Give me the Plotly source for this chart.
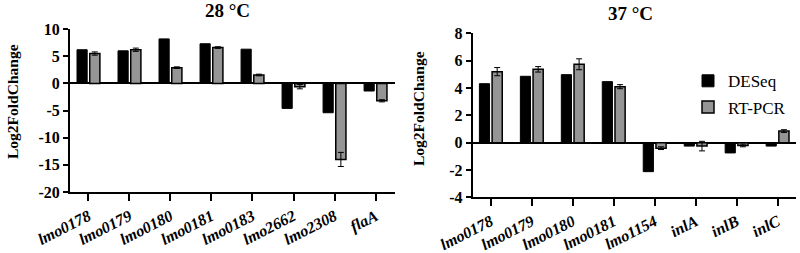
import plotly.graph_objects as go

genes_28 = ["lmo0178", "lmo0179", "lmo0180", "lmo0181", "lmo0183", "lmo2662", "lmo2308", "flaA"]
deseq_28 = [6.2, 6.0, 8.2, 7.3, 6.3, -4.6, -5.4, -1.4]
rtpcr_28 = [5.5, 6.2, 2.9, 6.6, 1.55, -0.6, -14.0, -3.2]
rtpcr_28_err = [0.3, 0.3, 0.15, 0.15, 0.15, 0.4, 1.3, 0.2]

genes_37 = ["lmo0178", "lmo0179", "lmo0180", "lmo0181", "lmo1154", "inlA", "inlB", "inlC"]
deseq_37 = [4.32, 4.86, 4.98, 4.47, -2.12, -0.25, -0.75, -0.25]
rtpcr_37 = [5.2, 5.37, 5.74, 4.1, -0.4, -0.25, -0.2, 0.85]
rtpcr_37_err = [0.3, 0.2, 0.4, 0.15, 0.1, 0.35, 0.1, 0.1]

FONT = "Liberation Serif, Times New Roman, serif"
GRAY = "#959595"

def ital(lst):
    return ["<b><i>%s</i></b>" % g for g in lst]

fig = go.Figure()
fig.add_trace(go.Bar(x=genes_28, y=deseq_28, name="DESeq", marker=dict(color="black", line=dict(color="black", width=1)),
                     xaxis="x", yaxis="y", showlegend=True, legendgroup="d"))
fig.add_trace(go.Bar(x=genes_28, y=rtpcr_28, name="RT-PCR", marker=dict(color=GRAY, line=dict(color="black", width=1.5)),
                     error_y=dict(type="data", array=rtpcr_28_err, color="black", thickness=1, width=3),
                     xaxis="x", yaxis="y", showlegend=True, legendgroup="r"))
fig.add_trace(go.Bar(x=genes_37, y=deseq_37, name="DESeq", marker=dict(color="black", line=dict(color="black", width=1)),
                     xaxis="x2", yaxis="y2", showlegend=False, legendgroup="d"))
fig.add_trace(go.Bar(x=genes_37, y=rtpcr_37, name="RT-PCR", marker=dict(color=GRAY, line=dict(color="black", width=1.5)),
                     error_y=dict(type="data", array=rtpcr_37_err, color="black", thickness=1, width=3),
                     xaxis="x2", yaxis="y2", showlegend=False, legendgroup="r"))

xcommon = dict(type="category", showline=True, linecolor="black", linewidth=2, ticks="outside",
               ticklen=7, tickwidth=1.5, tickcolor="black", tickangle=-27, showgrid=False, automargin=False,
               tickfont=dict(family=FONT, size=16, color="black"))
ycommon = dict(showline=True, linecolor="black", linewidth=2, ticks="outside", ticklen=5, tickwidth=1.5,
               tickcolor="black", showgrid=False, zeroline=True, zerolinecolor="black", zerolinewidth=1.5,
               automargin=False, tickfont=dict(family=FONT, size=16, color="black"))

fig.update_layout(
    width=800, height=253, margin=dict(l=0, r=0, t=0, b=0, autoexpand=False),
    paper_bgcolor="white", plot_bgcolor="white",
    barmode="group", bargap=0.38, bargroupgap=0.2,
    xaxis=dict(xcommon, domain=[0.0875, 0.494], range=[-0.45, 7.48], anchor="y",
               tickvals=genes_28, ticktext=ital(genes_28)),
    yaxis=dict(ycommon, domain=[0.241, 0.885], range=[-20, 10], tickvals=[10, 5, 0, -5, -10, -15, -20],
               ticktext=["<b>%s</b>" % v for v in [10, 5, 0, -5, -10, -15, -20]], anchor="x"),
    xaxis2=dict(xcommon, domain=[0.591, 0.995], range=[-0.44, 7.45], anchor="y2",
                tickvals=genes_37, ticktext=ital(genes_37)),
    yaxis2=dict(ycommon, domain=[0.220, 0.868], range=[-4, 8], tickvals=[8, 6, 4, 2, 0, -2, -4],
                ticktext=["<b>%s</b>" % v for v in [8, 6, 4, 2, 0, -2, -4]], anchor="x2"),
    legend=dict(x=0.86, y=0.75, xanchor="left", yanchor="top", bgcolor="rgba(0,0,0,0)",
                font=dict(family=FONT, size=17, color="black"), tracegroupgap=1, itemwidth=30),
    annotations=[
        dict(text="<b>28 °C</b>", x=0.284, y=1-11/253, xref="paper", yref="paper", showarrow=False,
             xanchor="center", yanchor="middle", font=dict(family=FONT, size=19, color="black")),
        dict(text="<b>37 °C</b>", x=0.7875, y=1-13/253, xref="paper", yref="paper", showarrow=False,
             xanchor="center", yanchor="middle", font=dict(family=FONT, size=19, color="black")),
        dict(text="<b>Log2FoldChange</b>", x=12/800, y=1-102/253, xref="paper", yref="paper", showarrow=False,
             xanchor="center", yanchor="middle", textangle=-90, font=dict(family=FONT, size=15.5, color="black")),
        dict(text="<b>Log2FoldChange</b>", x=419/800, y=1-109/253, xref="paper", yref="paper", showarrow=False,
             xanchor="center", yanchor="middle", textangle=-90, font=dict(family=FONT, size=15.5, color="black")),
    ],
)

fig.write_html("out.html", config={"displayModeBar": False},
               post_script="document.body.style.margin='0';document.body.style.padding='0';")
